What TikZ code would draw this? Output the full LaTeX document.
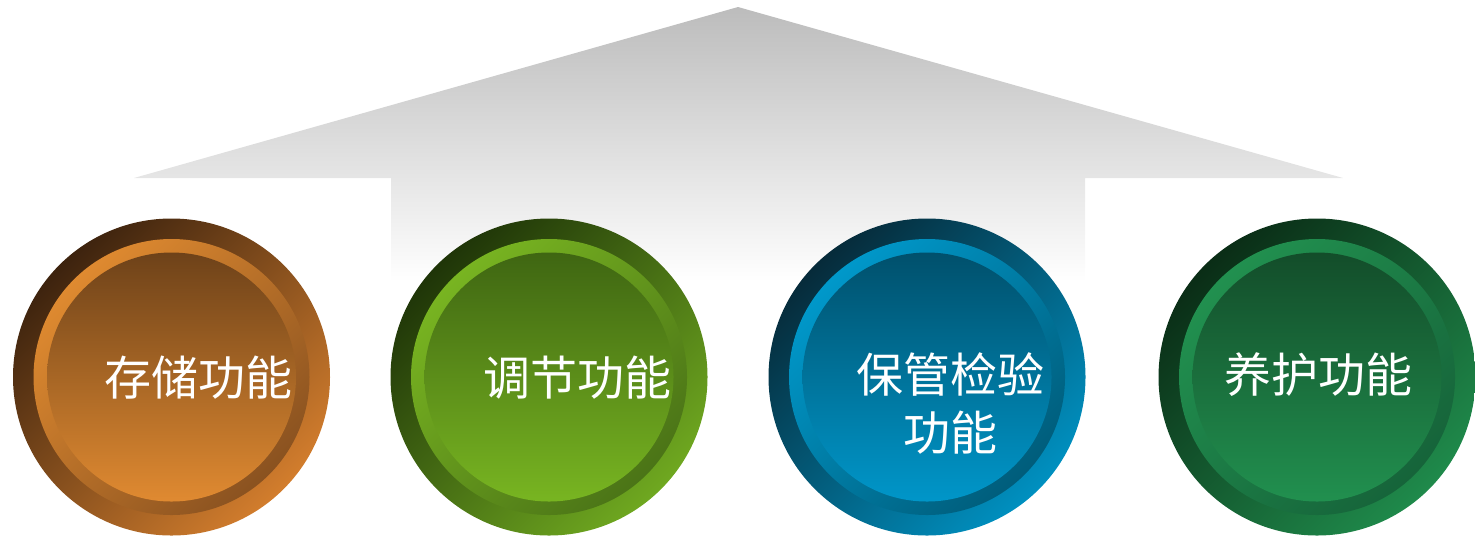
\documentclass[tikz,border=0pt]{standalone}
\usepackage{fontspec}
\newfontfamily\cjk{Noto Sans CJK SC}
\definecolor{houseTop}{HTML}{BCBCBC}
% orange
\definecolor{oA}{HTML}{3D230E}\definecolor{oB}{HTML}{D27D2D}
\definecolor{oC}{HTML}{DF8A30}\definecolor{oD}{HTML}{8A5220}
\definecolor{oE}{HTML}{6E4219}\definecolor{oF}{HTML}{E08A31}
% light green
\definecolor{gA}{HTML}{1F3508}\definecolor{gB}{HTML}{6FA820}
\definecolor{gC}{HTML}{78B421}\definecolor{gD}{HTML}{4B7417}
\definecolor{gE}{HTML}{3F6612}\definecolor{gF}{HTML}{78B521}
% blue
\definecolor{bA}{HTML}{062B3A}\definecolor{bB}{HTML}{0090C0}
\definecolor{bC}{HTML}{0098CA}\definecolor{bD}{HTML}{005D7B}
\definecolor{bE}{HTML}{00506C}\definecolor{bF}{HTML}{0096C9}
% dark green
\definecolor{dA}{HTML}{0A2D16}\definecolor{dB}{HTML}{1F8A4B}
\definecolor{dC}{HTML}{21904F}\definecolor{dD}{HTML}{16643A}
\definecolor{dE}{HTML}{134D2A}\definecolor{dF}{HTML}{21904F}
\tikzset{
  disc/.style={circle,inner sep=0pt,outer sep=0pt,draw=none},
  outerring/.style 2 args={disc,minimum size=158.5pt,top color=#1,bottom color=#2,shading angle=45},
  midring/.style 2 args={disc,minimum size=138pt,top color=#1,bottom color=#2,shading angle=45},
  innerdisc/.style 2 args={disc,minimum size=124.5pt,top color=#1,bottom color=#2},
  label/.style={text=white,font=\cjk\fontsize{23.5pt}{29pt}\selectfont,align=center,inner sep=0pt}
}
\begin{document}
\begin{tikzpicture}[x=0.5pt,y=-0.5pt]
\useasboundingbox (0,0) rectangle (1475,537);
% grey house arrow
\shade[top color=houseTop,bottom color=white]
  (738,7) -- (1343,178) -- (1085,178) -- (1085,282) -- (391,282) -- (391,178) -- (134,178) -- cycle;
% circle 1
\node[outerring={oA}{oB}] (c1o) at (171.5,377) {};
\node[midring={oC}{oD}] (c1m) at (c1o.center) {};
\node[innerdisc={oE}{oF}] (c1i) at (c1o.center) {};
\node[label] (t1) at (198,378) {存储功能};
% circle 2
\node[outerring={gA}{gB}] (c2o) at (549,377) {};
\node[midring={gC}{gD}] (c2m) at (c2o.center) {};
\node[innerdisc={gE}{gF}] (c2i) at (c2o.center) {};
\node[label] (t2) at (577.5,378) {调节功能};
% circle 3
\node[outerring={bA}{bB}] (c3o) at (927,377) {};
\node[midring={bC}{bD}] (c3m) at (c3o.center) {};
\node[innerdisc={bE}{bF}] (c3i) at (c3o.center) {};
\node[label] (t3) at (950,403) {保管检验\\功能};
% circle 4
\node[outerring={dA}{dB}] (c4o) at (1317,377) {};
\node[midring={dC}{dD}] (c4m) at (c4o.center) {};
\node[innerdisc={dE}{dF}] (c4i) at (c4o.center) {};
\node[label] (t4) at (1318,375) {养护功能};
\end{tikzpicture}
\end{document}
